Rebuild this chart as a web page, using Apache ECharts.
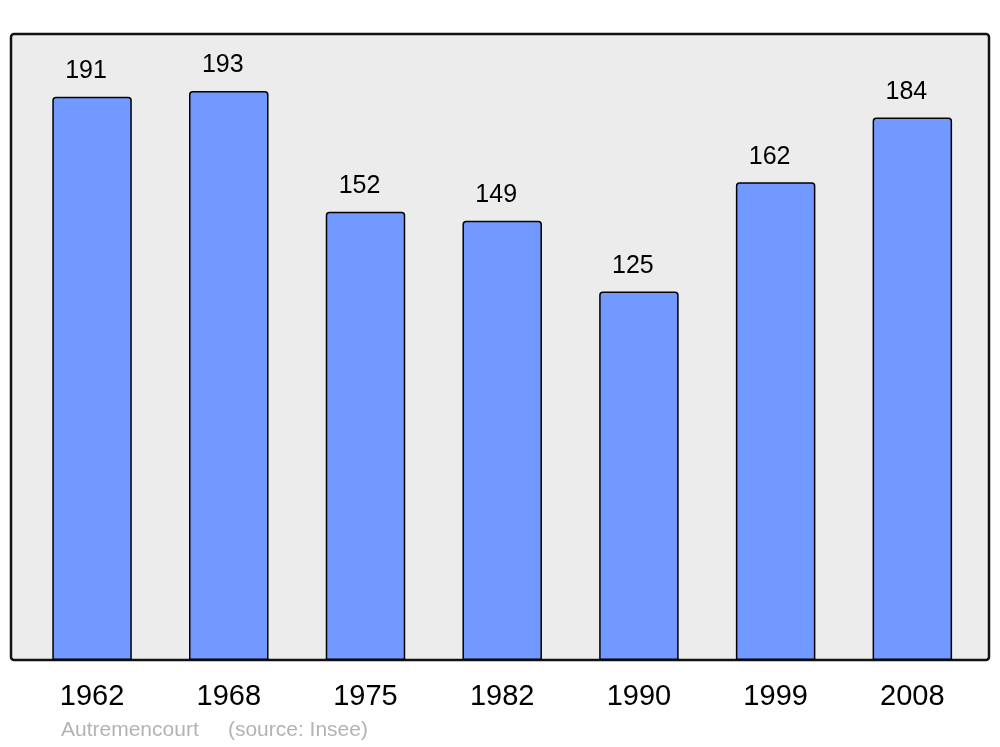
<!DOCTYPE html>
<html><head><meta charset="utf-8">
<script src="https://cdn.jsdelivr.net/npm/echarts@6/dist/echarts.min.js"></script>
<style>html,body{margin:0;padding:0;background:#fff}#c{width:1000px;height:747px}</style>
</head><body><div id="c"></div>
<script>
const years = ['1962','1968','1975','1982','1990','1999','2008'];
const population = [191,193,152,149,125,162,184];
const footer = 'Autremencourt     (source: Insee)';

const chart = echarts.init(document.getElementById('c'), null, {renderer:'canvas'});
chart.setOption({
  animation:false,
  backgroundColor:'#ffffff',
  graphic:[{
    type:'rect', z:-10, silent:true,
    shape:{x:11,y:34,width:978,height:626,r:3},
    style:{fill:'#ececec',stroke:'#111',lineWidth:2.5}
  },{
    type:'text', left:61, top:720,
    style:{text:footer, fill:'#b3b3b3', font:'21px "Liberation Sans", Arial, sans-serif'}
  }],
  grid:{left:23.7,width:957,top:34,height:626},
  xAxis:{type:'category',data:years,
    axisLine:{show:false},axisTick:{show:false},
    axisLabel:{color:'#000',fontSize:29,fontFamily:'Liberation Sans',margin:22}},
  yAxis:{type:'value',min:0,max:212.3,show:false,splitLine:{show:false}},
  series:[{type:'bar',data:population,barWidth:79.5,
    itemStyle:{color:'#7299ff',borderColor:'#000',borderWidth:1.5,borderRadius:[3,3,0,0]},
    label:{show:true,position:'top',distance:13,offset:[-6,0],color:'#000',fontSize:25,fontFamily:'Liberation Sans'}
  }]
});
</script></body></html>
